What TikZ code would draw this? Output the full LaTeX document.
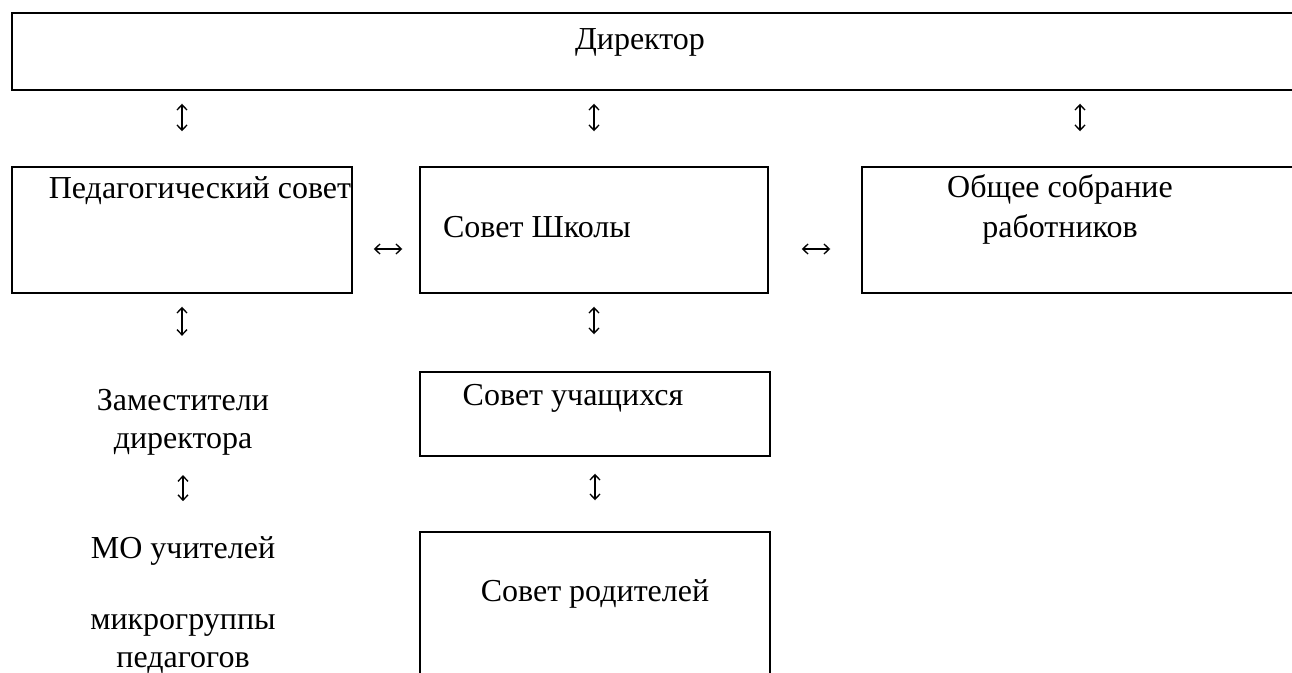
\documentclass[tikz,border=0pt]{standalone}
\usepackage{fontspec}
\setmainfont{Liberation Serif}
\usetikzlibrary{positioning,arrows.meta,fit}

\begin{document}
\begin{tikzpicture}[
    x = 0.75pt, y = -0.75pt,
    box/.style = {draw, line width=1.1pt, inner sep=0pt, fit={#1}},
    txt/.style = {inner sep=0pt, align=center, font=\fontsize{24}{28}\selectfont},
    > = {Straight Barb[length=4pt, width=7.5pt, line width=1pt]},
    link/.style = {<->, line width=0.9pt}
]
\useasboundingbox (0,0) rectangle (1292,673);
\clip (0,0) rectangle (1292,673);

\node (dir) [box={(12,13) (1310,90)}] {};
\node (ped) [box={(12,167) (352,293)}] {};
\node (school) [box={(420,167) (768,293)}] {};
\node (general) [box={(862,167) (1298,293)}] {};
\node (pupils) [box={(420,372) (770,456)}] {};
\node (parents) [box={(420,532) (770,700)}] {};

\node (dirT) [txt, anchor=base] at (640,50) {Директор};
\node (pedT) [txt, anchor=base] at (200,199) {Педагогический совет};
\node (schoolT) [txt, anchor=base] at (537,238) {Совет Школы};
\node (generalT) [txt, anchor=base] at (1060,238) {Общее собрание\\[2pt]работников};
\node (pupilsT) [txt, anchor=base] at (573,406) {Совет учащихся};
\node (parentsT) [txt, anchor=base] at (595,601) {Совет родителей};
\node (deputies) [txt, anchor=base] at (183,448) {Заместители\\директора};
\node (mo) [txt, anchor=base] at (183,558) {МО учителей};
\node (micro) [txt, anchor=base] at (183,667) {микрогруппы\\педагогов};

\draw[link, shorten <=9.75pt, shorten >=26.25pt] (dir.south -| ped.north) to (ped.north);
\draw[link, shorten <=9.75pt, shorten >=26.25pt] (dir.south -| school.north) to (school.north);
\draw[link, shorten <=9.75pt, shorten >=26.25pt] (dir.south -| general.north) to (general.north);
\draw[link, shorten <=15.75pt, shorten >=12.75pt] ([yshift=-14.25pt]ped.east) to ([yshift=-14.25pt]school.west);
\draw[link, shorten <=24.75pt, shorten >=23.25pt] ([yshift=-14.25pt]school.east) to ([yshift=-14.25pt]general.west);
\draw[link, shorten <=9.75pt, shorten >=40pt] (ped.south) to (ped.south |- deputies.north);
\draw[link, shorten <=9.75pt, shorten >=27.75pt] (school.south) to (school.south |- pupils.north);
\draw[link, shorten <=15pt, shorten >=26pt] (deputies.south) to (mo.north);
\draw[link, shorten <=12.75pt, shorten >=23.25pt] (pupils.south) to (pupils.south |- parents.north);
\end{tikzpicture}
\end{document}
